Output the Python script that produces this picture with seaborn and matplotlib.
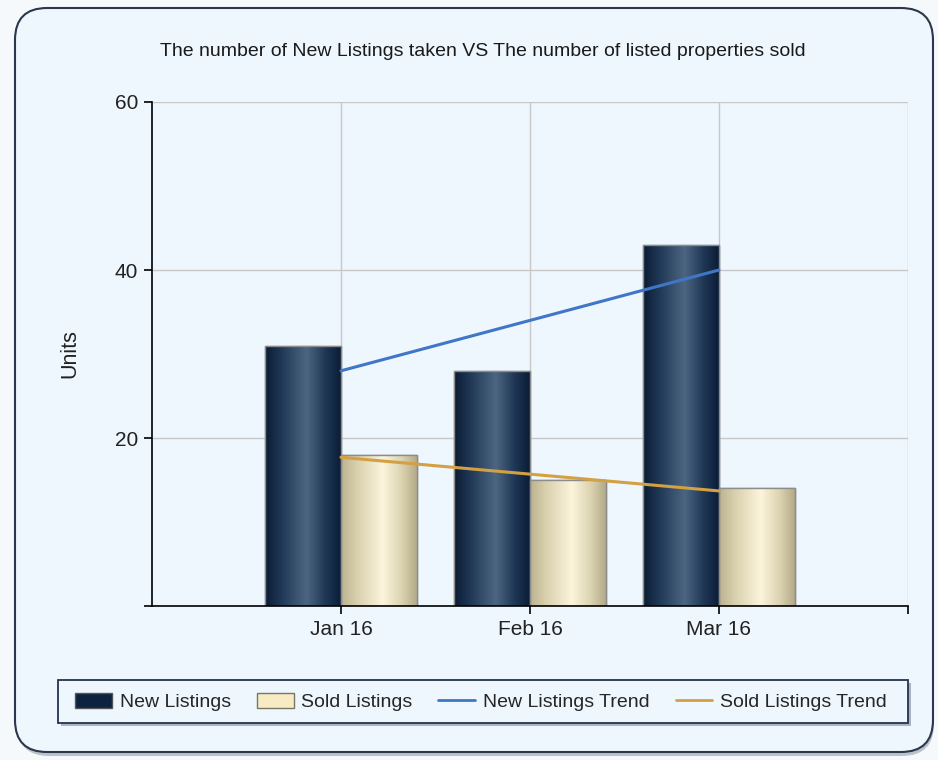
import numpy as np
import pandas as pd
import seaborn as sns
import matplotlib
matplotlib.use('Agg')
import matplotlib.pyplot as plt
from matplotlib.patches import FancyBboxPatch, Patch, Rectangle
from matplotlib.lines import Line2D
from matplotlib.colors import LinearSegmentedColormap

# Data
months = ['Jan 16', 'Feb 16', 'Mar 16']
new_listings = [31, 28, 43]
sold_listings = [18, 15, 14]
new_trend = [28, 34, 40]
sold_trend = [17.7, 15.7, 13.7]
series_names = ['New Listings', 'Sold Listings']
trend_names = ['New Listings Trend', 'Sold Listings Trend']

df = pd.DataFrame({'month': months * 2,
                   'units': new_listings + sold_listings,
                   'series': [series_names[0]] * 3 + [series_names[1]] * 3})

sns.set_theme(style='white')
plt.rcParams['font.family'] = ['Liberation Sans', 'DejaVu Sans']

panel_bg = '#eef6fe'
fig = plt.figure(figsize=(9.38, 7.6), dpi=100)
fig.patch.set_facecolor('#f6f9fc')

# rounded panel with a soft shadow, kept behind the axes
shadow = FancyBboxPatch((0.17, 0.04), 9.17, 7.42, boxstyle='round,pad=0,rounding_size=0.32',
                        transform=fig.dpi_scale_trans, fc='#8e96a2', ec='none', alpha=0.55, zorder=-2)
panel = FancyBboxPatch((0.15, 0.08), 9.18, 7.44, boxstyle='round,pad=0,rounding_size=0.32',
                       transform=fig.dpi_scale_trans, fc=panel_bg, ec='#2b384c', lw=1.5, zorder=-1)
fig.add_artist(shadow)
fig.add_artist(panel)

# legend box (pixels: x 58-908, y 680-723) drawn by hand so the padding matches
fig.add_artist(Rectangle((0.61, 0.34), 8.50, 0.43, transform=fig.dpi_scale_trans,
                         fc='#7d8794', ec='none', alpha=0.6, zorder=-0.5))
fig.add_artist(Rectangle((0.58, 0.37), 8.50, 0.43, transform=fig.dpi_scale_trans,
                         fc=panel_bg, ec='#233450', lw=1.3, zorder=-0.4))

ax = fig.add_axes([0.162, 0.2026, 0.806, 0.6632])
ax.set_facecolor('none')
ax.set_zorder(1)

sns.barplot(data=df, x='month', y='units', hue='series', palette=['#0c2340', '#ece3c3'],
            width=0.8, saturation=1, ax=ax, legend=False, edgecolor='#8c8c8c', linewidth=1)

# cylinder-like shading on the bars
new_cmap = LinearSegmentedColormap.from_list('n', [(0, '#0a1c34'), (0.2, '#1e3654'), (0.55, '#4c6682'),
                                                   (0.8, '#1f3755'), (1, '#0a1d37')])
sold_cmap = LinearSegmentedColormap.from_list('s', [(0, '#bbb290'), (0.2, '#d8cfac'), (0.55, '#fcf5dc'),
                                                    (0.8, '#dcd3b0'), (1, '#b3aa88')])
grad = np.linspace(0, 1, 256).reshape(1, -1)
bars = list(ax.patches)
for i, bar in enumerate(bars):
    cmap = new_cmap if i < 3 else sold_cmap
    x0, w, h = bar.get_x(), bar.get_width(), bar.get_height()
    im = ax.imshow(grad, extent=[x0, x0 + w, 0, h], aspect='auto', cmap=cmap, zorder=bar.get_zorder() + 0.1)
    im.set_clip_path(bar)
    ax.add_patch(Rectangle((x0, 0), w, h, fill=False, ec='#8c8c8c', lw=1, zorder=bar.get_zorder() + 0.2))

sns.lineplot(x=np.arange(3), y=new_trend, ax=ax, color='#3f77c6', lw=2.2, zorder=5)
sns.lineplot(x=np.arange(3), y=sold_trend, ax=ax, color='#d3a043', lw=2.2, zorder=5)

ax.set_xlim(-1, 3)
ax.set_ylim(0, 60)
ax.set_xticks([0, 1, 2, 3])
ax.set_xticklabels(months + [''])
ax.set_yticks([0, 20, 40, 60])
ax.set_yticklabels(['', '20', '40', '60'])
ax.set_xlabel('')
ax.set_ylabel('')
ax.grid(True, color='#c8c8c8', lw=1)
ax.set_axisbelow(True)
for s in ['top', 'right']:
    ax.spines[s].set_visible(False)
for s in ['left', 'bottom']:
    ax.spines[s].set_color('black')
    ax.spines[s].set_linewidth(1.2)
ax.tick_params(bottom=True, left=True, direction='out', length=6, width=1.2, color='black',
               labelsize=15, labelcolor='#222222', pad=4)

fig.text(0.515, 0.9316, 'The number of New Listings taken VS The number of listed properties sold',
         ha='center', va='center', fontsize=14, color='#1a1a1a')
fig.text(0.0746, 0.535, 'Units', rotation=90, ha='center', va='center', fontsize=15.5, color='#222222')

handles = [Patch(fc='#0c2340', ec='#555555', lw=1),
           Patch(fc='#f8ebc4', ec='#777766', lw=1),
           Line2D([], [], color='#3f77c6', lw=2),
           Line2D([], [], color='#d3a043', lw=2)]
leg = fig.legend(handles, series_names + trend_names, loc='center',
                 bbox_to_anchor=(75 / 938, 0.0766 - 0.02, 812 / 938, 0.04), mode='expand', ncol=4,
                 frameon=False, fontsize=14, handlelength=1.9, handleheight=0.8, handletextpad=0.4,
                 borderaxespad=0, borderpad=0)

fig.savefig('out.png', dpi=100, facecolor=fig.get_facecolor())
